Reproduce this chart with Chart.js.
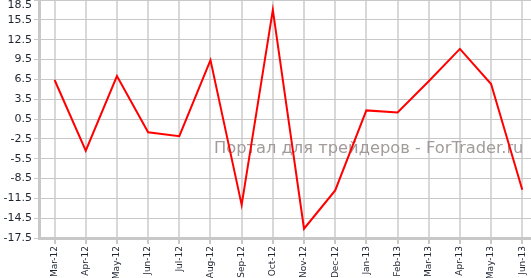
<!DOCTYPE html>
<html><head><meta charset="utf-8">
<script src="https://cdn.jsdelivr.net/npm/chart.js@4.4.0/dist/chart.umd.min.js"></script>
<style>html,body{margin:0;padding:0;background:#fff;overflow:hidden}#wrap{width:531px;height:278px}</style>
</head><body><div id="wrap"><canvas id="c" width="531" height="278"></canvas></div>
<script>
const categories = ['Mar-12','Apr-12','May-12','Jun-12','Jul-12','Aug-12','Sep-12','Oct-12','Nov-12','Dec-12','Jan-13','Feb-13','Mar-13','Apr-13','May-13','Jun-13'];
const values = [6.4, -4.3, 7.0, -1.5, -2.1, 9.4, -12.5, 17.0, -16.1, -10.3, 1.8, 1.5, 6.2, 11.1, 5.8, -10.2];
const yTickValues = [-17.5, -14.5, -11.5, -8.5, -5.5, -2.5, 0.5, 3.5, 6.5, 9.5, 12.5, 15.5, 18.5];
const watermark = 'Портал для трейдеров - ForTrader.ru';

const topLabelPlugin = {
  id: 'topLabel',
  beforeDraw(chart) {
    try {
      const items = chart.scales.y.getLabelItems(chart.chartArea);
      items.forEach(it => {
        if (it.options && it.options.translation && it.options.translation[1] < 5) it.options.translation[1] = 5;
      });
    } catch (e) {}
  }
};
const watermarkPlugin = {
  id: 'watermark',
  beforeDatasetsDraw(chart) {
    const ctx = chart.ctx;
    ctx.save();
    ctx.font = '16.3px "DejaVu Sans"';
    ctx.fillStyle = '#a39b9b';
    ctx.textAlign = 'left';
    ctx.textBaseline = 'alphabetic';
    ctx.fillText(watermark, 214, 153);
    ctx.restore();
  }
};

new Chart(document.getElementById('c'), {
  type: 'line',
  data: {
    datasets: [{
      data: values.map((v, i) => ({x: i, y: v})),
      borderColor: '#ff0000',
      borderWidth: 2,
      pointRadius: 0,
      tension: 0,
      fill: false,
      borderJoinStyle: 'miter'
    }]
  },
  options: {
    responsive: false,
    animation: false,
    layout: {padding: 0},
    plugins: {legend: {display: false}, tooltip: {enabled: false}},
    scales: {
      x: {
        type: 'linear',
        min: -0.5,
        max: 15.28,
        afterBuildTicks: s => { s.ticks = categories.map((_, i) => ({value: i})); },
        ticks: {
          callback: (v) => categories[Math.round(v)] || '',
          autoSkip: false, maxRotation: 90, minRotation: 90,
          font: {family: 'DejaVu Sans', size: 9}, color: '#1e2430', padding: 2
        },
        grid: {color: '#d8d8d8', lineWidth: 2, tickLength: 6, tickColor: '#c8c8c8'},
        border: {color: '#c8c8c8', width: 3},
        afterFit: s => { s.height = 40; s.paddingLeft = 0; s.paddingRight = 0; }
      },
      y: {
        type: 'linear',
        min: -17.5,
        max: 18.5,
        afterBuildTicks: s => { s.ticks = yTickValues.map(v => ({value: v})); },
        ticks: {
          callback: v => Number(v).toFixed(1),
          font: {family: 'DejaVu Sans', size: 11}, color: '#1e2430', padding: 2
        },
        grid: {color: '#c8c8c8', lineWidth: 1, tickLength: 5, tickColor: '#c8c8c8'},
        border: {color: '#c8c8c8', width: 3},
        afterFit: s => { s.width = 39; s.paddingTop = 0; s.paddingBottom = 0; }
      }
    }
  },
  plugins: [topLabelPlugin, watermarkPlugin]
});
</script>
</body></html>
